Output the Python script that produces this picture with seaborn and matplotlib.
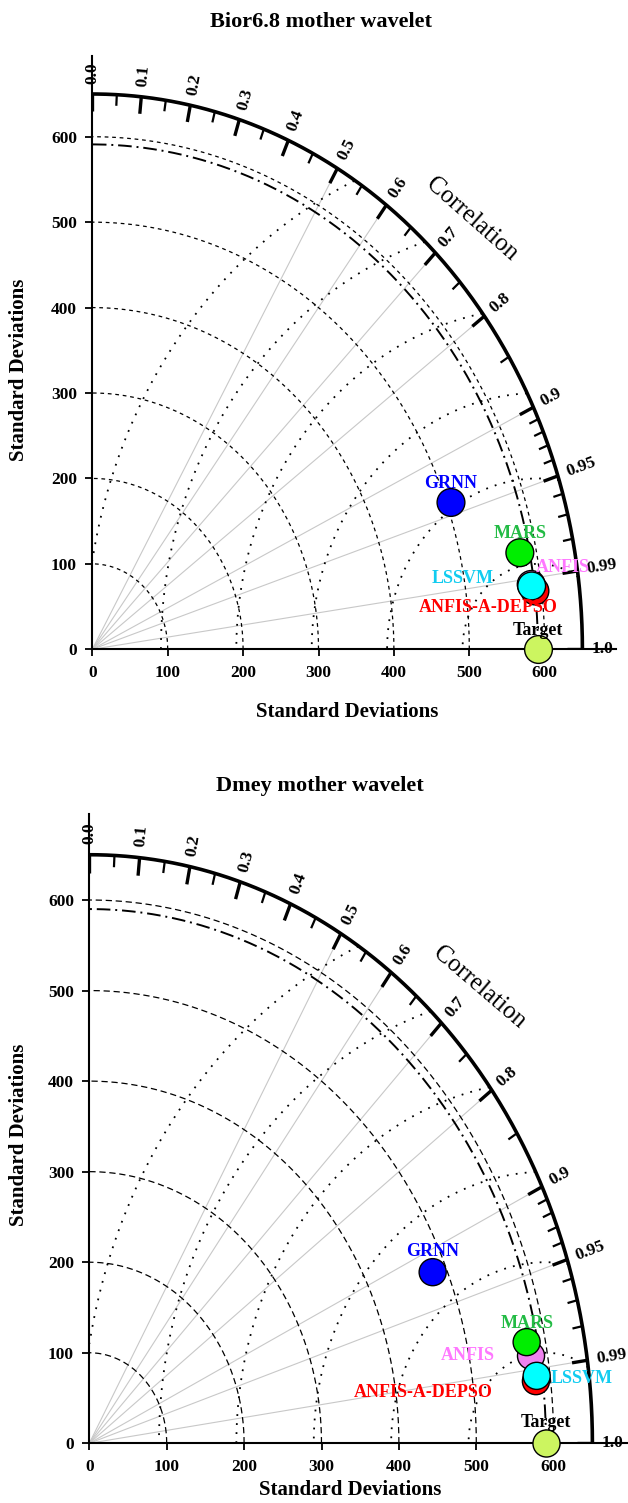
import numpy as np
import pandas as pd
import matplotlib
matplotlib.use("Agg")
import matplotlib.pyplot as plt
import seaborn as sns

# ---------------------------------------------------------------- data
models = ["GRNN", "ANFIS", "MARS", "ANFIS-A-DEPSO", "LSSVM"]

bior_std = [505.8, 587.0, 578.2, 591.0, 587.4]
bior_corr = [0.9405, 0.9916, 0.9807, 0.9933, 0.9920]
bior_ref_std = 591.0

dmey_std = [482.2, 578.8, 576.0, 581.1, 582.8]
dmey_corr = [0.920, 0.986, 0.981, 0.9930, 0.9918]
dmey_ref_std = 590.0

std_ticks = [0, 100, 200, 300, 400, 500, 600]
std_arcs = [100, 200, 300, 400, 500, 600]
rms_arcs = [100, 200, 300, 400, 500, 600]
cor_major = [0.0, 0.1, 0.2, 0.3, 0.4, 0.5, 0.6, 0.7, 0.8, 0.9, 0.95, 0.99, 1.0]
cor_labels = ["0.0", "0.1", "0.2", "0.3", "0.4", "0.5", "0.6", "0.7", "0.8",
              "0.9", "0.95", "0.99", "1.0"]
cor_minor = [0.05, 0.15, 0.25, 0.35, 0.45, 0.55, 0.65, 0.75, 0.85,
             0.91, 0.92, 0.93, 0.94, 0.96, 0.97, 0.98]
cor_rays = [0.5, 0.6, 0.7, 0.8, 0.9, 0.95, 0.99]

marker_colors = {"GRNN": "#0000ff", "MARS": "#00ee00", "ANFIS": "#ee82ee",
                 "ANFIS-A-DEPSO": "#ff0000", "LSSVM": "#00ffff"}
label_colors = {"GRNN": "#0000ff", "MARS": "#22bb44", "ANFIS": "#ff77ff",
                "ANFIS-A-DEPSO": "#ff0000", "LSSVM": "#11ccf0"}
target_color = "#ccf560"

# label offsets in pixels (dx, dy) from each marker
bior_offsets = {"GRNN": (0, 19), "MARS": (0, 19), "ANFIS": (32, 17),
                "LSSVM": (-69, 7), "ANFIS-A-DEPSO": (-47, -17), "Target": (0, 19)}
dmey_offsets = {"GRNN": (0, 21), "MARS": (0, 19), "ANFIS": (-63, 0),
                "LSSVM": (45, -3), "ANFIS-A-DEPSO": (-113, -11), "Target": (0, 21)}

R_MAX = 650
AX_MAX = 695

# ---------------------------------------------------------------- style
sns.set_theme(style="white")
plt.rcParams["font.family"] = ["Liberation Serif", "DejaVu Serif"]
plt.rcParams["font.weight"] = "bold"
plt.rcParams["text.color"] = "black"
plt.rcParams["axes.labelcolor"] = "black"
plt.rcParams["xtick.color"] = "black"
plt.rcParams["ytick.color"] = "black"

fig = plt.figure(figsize=(6.28, 15.03), dpi=100)
W, H = 628.0, 1503.0


def add_panel(x0, y0, sx, sy):
    """Axes whose data origin sits at pixel (x0, y0) with sx, sy px per unit."""
    w = AX_MAX * sx
    h = AX_MAX * sy
    return fig.add_axes([x0 / W, (H - y0) / H, w / W, h / H])


def pix_angle(ax, t):
    p0 = ax.transData.transform((0, 0))
    p1 = ax.transData.transform((100 * np.cos(t), 100 * np.sin(t)))
    return np.degrees(np.arctan2(p1[1] - p0[1], p1[0] - p0[0]))


def draw_panel(ax, std, corr, ref_std, offsets, msize, dash):
    ax.set_xlim(0, AX_MAX)
    ax.set_ylim(0, AX_MAX)
    for s in ["top", "right"]:
        ax.spines[s].set_visible(False)
    for s in ["left", "bottom"]:
        ax.spines[s].set_linewidth(1.5)
        ax.spines[s].set_color("black")
        ax.spines[s].set_zorder(4)

    th = np.linspace(0, np.pi / 2, 500)

    # correlation rays
    for c in cor_rays:
        t = np.arccos(c)
        ax.plot([0, R_MAX * np.cos(t)], [0, R_MAX * np.sin(t)],
                color="#c8c8c8", lw=0.8, zorder=1)

    # standard deviation arcs
    for r in std_arcs:
        ax.plot(r * np.cos(th), r * np.sin(th), color="black", lw=0.9,
                ls=(0, dash), zorder=2)

    # reference standard deviation arc
    ax.plot(ref_std * np.cos(th), ref_std * np.sin(th), color="black", lw=1.4,
            ls=(0, (7, 2.5, 1, 2.5)), zorder=2)

    # centred RMS difference arcs
    phi = np.linspace(0, np.pi, 1500)
    for r in rms_arcs:
        x = ref_std + r * np.cos(phi)
        y = r * np.sin(phi)
        ok = (x >= 0) & (np.hypot(x, y) <= R_MAX)
        ax.plot(np.where(ok, x, np.nan), np.where(ok, y, np.nan),
                color="black", lw=1.3, ls=(0, (1, 4)), zorder=2)

    # outer correlation axis
    ax.plot(R_MAX * np.cos(th), R_MAX * np.sin(th), color="black", lw=2.6,
            zorder=4, solid_capstyle="projecting")

    for c in cor_major:
        t = np.arccos(c)
        ax.plot([R_MAX * np.cos(t), (R_MAX - 20) * np.cos(t)],
                [R_MAX * np.sin(t), (R_MAX - 20) * np.sin(t)],
                color="black", lw=2.4, zorder=4, solid_capstyle="butt")
    for c in cor_minor:
        t = np.arccos(c)
        ax.plot([R_MAX * np.cos(t), (R_MAX - 13) * np.cos(t)],
                [R_MAX * np.sin(t), (R_MAX - 13) * np.sin(t)],
                color="black", lw=1.6, zorder=4, solid_capstyle="butt")
    for c, lab in zip(cor_major, cor_labels):
        t = np.arccos(c)
        rr = R_MAX + 12
        ax.text(rr * np.cos(t), rr * np.sin(t), lab, rotation=pix_angle(ax, t),
                rotation_mode="anchor", ha="left", va="center",
                fontsize=12.5, fontweight="bold", color="black", clip_on=False)

    # axis title along the arc
    t = np.pi / 4
    tang = pix_angle(ax, t) - 90
    ax.text(712 * np.cos(t), 712 * np.sin(t), "Correlation", rotation=tang,
            rotation_mode="anchor", ha="center", va="center", fontsize=18,
            fontweight="normal", color="black", clip_on=False)

    # cartesian std axes
    ax.set_xticks(std_ticks)
    ax.set_yticks(std_ticks)
    ax.tick_params(axis="both", direction="out", length=5, width=1.3,
                   labelsize=12.5, colors="black", bottom=True, left=True, pad=6)
    for lab in ax.get_xticklabels() + ax.get_yticklabels():
        lab.set_fontweight("bold")

    # models
    ang = np.arccos(np.array(corr))
    df = pd.DataFrame({"model": models,
                       "x": np.array(std) * np.cos(ang),
                       "y": np.array(std) * np.sin(ang)})
    sns.scatterplot(data=df, x="x", y="y", hue="model", palette=marker_colors,
                    s=msize, edgecolor="black", linewidth=1.0, legend=False,
                    ax=ax, zorder=6, clip_on=False)
    tdf = pd.DataFrame({"x": [ref_std], "y": [0.0]})
    sns.scatterplot(data=tdf, x="x", y="y", color=target_color, s=msize,
                    edgecolor="black", linewidth=1.0, legend=False, ax=ax,
                    zorder=6, clip_on=False)
    ax.set_xlabel("")
    ax.set_ylabel("")

    for _, row in df.iterrows():
        dx, dy = offsets[row["model"]]
        ax.annotate(row["model"], (row["x"], row["y"]), xytext=(dx, dy),
                    textcoords="offset pixels", ha="center", va="center",
                    fontsize=13, fontweight="bold", color=label_colors[row["model"]],
                    zorder=7, annotation_clip=False)
    dx, dy = offsets["Target"]
    ax.annotate("Target", (ref_std, 0), xytext=(dx, dy), textcoords="offset pixels",
                ha="center", va="center", fontsize=13, fontweight="bold",
                color="black", zorder=7, annotation_clip=False)


def fig_text(x, y, s, **kw):
    fig.text(x / W, 1 - y / H, s, ha="center", va="center", fontweight="bold",
             color="black", **kw)


ax1 = add_panel(92.3, 649.3, 0.754, 0.8543)
draw_panel(ax1, bior_std, bior_corr, bior_ref_std, bior_offsets, 400, (3, 3))

ax2 = add_panel(89.3, 1443.3, 0.774, 0.9055)
draw_panel(ax2, dmey_std, dmey_corr, dmey_ref_std, dmey_offsets, 380, (5, 3))

fig_text(321, 22, "Bior6.8 mother wavelet", fontsize=16)
fig_text(347, 712, "Standard Deviations", fontsize=15)
fig_text(19, 370, "Standard Deviations", fontsize=15, rotation=90)

fig_text(320, 786, "Dmey mother wavelet", fontsize=16)
fig_text(350, 1490, "Standard Deviations", fontsize=15)
fig_text(19, 1135, "Standard Deviations", fontsize=15, rotation=90)

fig.savefig("out.png", dpi=100)
